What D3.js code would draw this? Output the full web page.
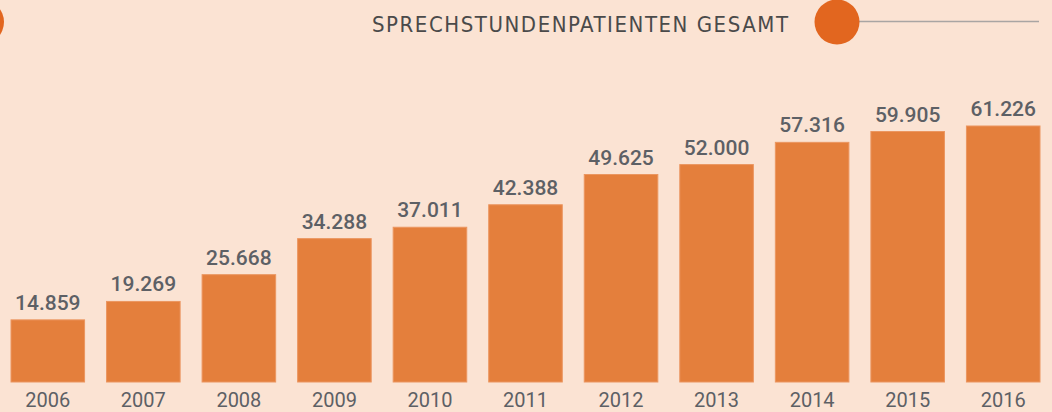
<!DOCTYPE html>
<html>
<head>
<meta charset="utf-8">
<script src="https://cdn.jsdelivr.net/npm/d3@7"></script>
<style>
  body { margin: 0; background: #fbe3d3; }
  svg { display: block; }
</style>
</head>
<body>
<div id="chart"></div>
<script>
// data
const years = ["2006", "2007", "2008", "2009", "2010", "2011", "2012", "2013", "2014", "2015", "2016"];
const patients = [14859, 19269, 25668, 34288, 37011, 42388, 49625, 52000, 57316, 59905, 61226];
const title = "SPRECHSTUNDENPATIENTEN GESAMT";

const width = 1052, height = 412;

const svg = d3.select("#chart").append("svg")
    .attr("width", width)
    .attr("height", height);

svg.append("rect")
    .attr("width", width)
    .attr("height", height)
    .attr("fill", "#fbe3d3");

// header: title, dot and rule
svg.append("circle")
    .attr("cx", -18)
    .attr("cy", 22)
    .attr("r", 22)
    .attr("fill", "#e2661f");

svg.append("line")
    .attr("x1", 850)
    .attr("x2", 1039)
    .attr("y1", 21.5)
    .attr("y2", 21.5)
    .attr("stroke", "#a9a5a3")
    .attr("stroke-width", 1.5);

svg.append("circle")
    .attr("cx", 837)
    .attr("cy", 22)
    .attr("r", 22.5)
    .attr("fill", "#e2661f");

svg.append("text")
    .attr("x", 372)
    .attr("y", 32)
    .attr("textLength", 416)
    .attr("lengthAdjust", "spacing")
    .style("font-family", "'DejaVu Sans Condensed', 'Liberation Sans Narrow', sans-serif")
    .style("font-size", "22px")
    .style("fill", "#4a4a4a")
    .text(title);

// scales
const x = d3.scaleBand()
    .domain(years)
    .range([11, 1040])
    .paddingInner(0.23)
    .paddingOuter(0);

const y = d3.scaleLinear()
    .domain([0, 61226])
    .range([382, 126]);

const fmt = d3.formatLocale({ decimal: ",", thousands: ".", grouping: [3], currency: ["", "€"] }).format(",d");

const data = years.map((yr, i) => ({ year: yr, value: patients[i] }));

svg.selectAll(".bar")
    .data(data)
    .enter()
    .append("rect")
    .attr("class", "bar")
    .attr("x", d => x(d.year))
    .attr("y", d => y(d.value))
    .attr("width", x.bandwidth())
    .attr("height", d => y(0) - y(d.value))
    .attr("fill", "#e47f3c")
    .attr("stroke", "#eb9660")
    .attr("stroke-width", 1);

svg.selectAll(".val")
    .data(data)
    .enter()
    .append("text")
    .attr("class", "val")
    .attr("x", d => x(d.year) + x.bandwidth() / 2)
    .attr("y", d => y(d.value) - 10)
    .attr("text-anchor", "middle")
    .style("font-family", "Roboto, sans-serif")
    .style("font-weight", "500")
    .style("font-size", "21px")
    .style("fill", "#5d6065")
    .text(d => fmt(d.value));

// year axis
const xAxis = svg.append("g")
    .attr("transform", "translate(0,382)")
    .call(d3.axisBottom(x).tickSize(0).tickPadding(8));

xAxis.select(".domain").remove();
xAxis.selectAll("text")
    .attr("dy", "0")
    .attr("y", 25)
    .style("font-family", "Roboto, sans-serif")
    .style("font-size", "20px")
    .style("fill", "#5d6065");
</script>
</body>
</html>
